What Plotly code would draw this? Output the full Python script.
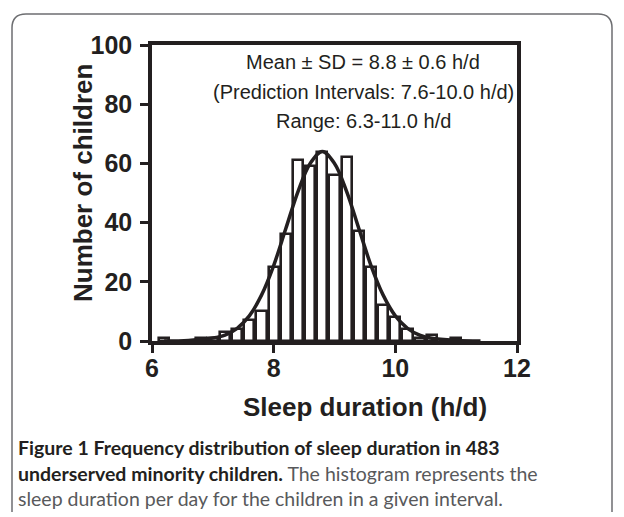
import plotly.graph_objects as go

# Histogram bins (h/d) and counts
bin_centers = [6.2, 6.8, 7.0, 7.2, 7.4, 7.6, 7.8, 8.0, 8.2, 8.4, 8.6, 8.8, 9.0,
               9.2, 9.4, 9.6, 9.8, 10.0, 10.2, 10.4, 10.6, 11.0]
counts = [1, 1, 1, 3, 4, 7, 10, 25, 36, 61, 59, 64, 56,
          62, 37, 25, 12, 8, 4, 1, 2, 1]

# Fitted curve, points
curve_x = [6.2, 6.6, 7.0, 7.2, 7.4, 7.6, 7.8, 8.0, 8.2, 8.4, 8.6, 8.8, 9.0,
           9.2, 9.4, 9.6, 9.8, 10.0, 10.2, 10.4, 10.6, 11.0, 11.4]
curve_y = [0.0, 0.2, 1.0, 2.0, 4.3, 8.5, 15.5, 25.5, 38.0, 50.5, 60.0, 64.0, 60.0,
           50.5, 38.0, 25.5, 15.5, 8.5, 4.3, 2.0, 0.9, 0.2, 0.0]

x_ticks = [6, 8, 10, 12]
y_ticks = [0, 20, 40, 60, 80, 100]

stats_lines = ["Mean ± SD = 8.8 ± 0.6 h/d",
               "(Prediction Intervals: 7.6-10.0 h/d)",
               "Range: 6.3-11.0 h/d"]
x_title = "Sleep duration (h/d)"
y_title = "Number of children"

W, H = 624, 517
L, R, T, B = 152, 107, 45, 176
INK = "#231f20"

fig = go.Figure()
fig.add_trace(go.Bar(x=bin_centers, y=counts, width=0.165,
                     marker=dict(color="white", line=dict(color=INK, width=2.6)),
                     showlegend=False))
fig.add_trace(go.Scatter(x=curve_x, y=curve_y, mode="lines", line_shape="spline",
                         line=dict(color=INK, width=3.5), showlegend=False))

FAM = "Liberation Sans, Arial"
tick_font = dict(family=FAM, size=25, color=INK, weight="bold")
title_font = dict(family=FAM, size=26, color=INK, weight="bold")
fig.update_xaxes(range=[6, 12], tickvals=x_ticks, ticks="outside", ticklen=8, tickwidth=3,
                 tickcolor=INK, showline=True, linewidth=3.5, linecolor=INK,
                 mirror=True, showgrid=False, zeroline=False, tickfont=tick_font,
                 ticklabelstandoff=-6)
fig.update_yaxes(range=[0, 100], tickvals=y_ticks, ticks="outside", ticklen=8, tickwidth=3,
                 tickcolor=INK, showline=True, linewidth=3.5, linecolor=INK,
                 mirror=True, showgrid=False, zeroline=False, tickfont=tick_font,
                 ticklabelstandoff=3)

pw, ph = W - L - R, H - T - B
def px(x):
    return (x - L) / pw
def py(y):
    return 1 - (y - T) / ph

# axis titles
fig.add_annotation(x=px(365), y=py(407), xref="paper", yref="paper", text=x_title,
                   showarrow=False, xanchor="center", yanchor="middle", font=title_font)
fig.add_annotation(x=px(83), y=py(183), xref="paper", yref="paper", text=y_title,
                   textangle=-90, showarrow=False, xanchor="center", yanchor="middle",
                   font=title_font)

for i, line in enumerate(stats_lines):
    fig.add_annotation(x=px(363), y=py(62 + 29.5 * i), xref="paper", yref="paper",
                       text=line, showarrow=False, xanchor="center", yanchor="middle",
                       font=dict(family=FAM, size=20, color=INK))

cap_font = "Lato, Open Sans, sans-serif"
caps = [("<b>Figure 1 Frequency distribution of sleep duration in 483</b>", 447),
        ("<b>underserved minority children.</b><span style='color:#58595b'> The histogram represents the</span>", 473),
        ("<span style='color:#58595b'>sleep duration per day for the children in a given interval.</span>", 498)]
for text, ypix in caps:
    fig.add_annotation(x=px(17), y=py(ypix), xref="paper", yref="paper",
                       text=text, showarrow=False, xanchor="left", yanchor="middle",
                       borderpad=0, font=dict(family=cap_font, size=19.5, color=INK))

# rounded panel border
r = 14
x0, y0, x1, y1 = 12, 14, 612, 512
path = (f"M {px(x0)},{py(y1)} L {px(x0)},{py(y0 + r)} Q {px(x0)},{py(y0)} {px(x0 + r)},{py(y0)} "
        f"L {px(x1 - r)},{py(y0)} Q {px(x1)},{py(y0)} {px(x1)},{py(y0 + r)} L {px(x1)},{py(y1)}")
fig.add_shape(type="path", path=path, xref="paper", yref="paper",
              line=dict(color="#6d6e71", width=1.5))

fig.update_layout(width=W, height=H, margin=dict(l=L, r=R, t=T, b=B, autoexpand=False),
                  paper_bgcolor="white", plot_bgcolor="white", bargap=0)
fig.write_html("out.html", config={"displayModeBar": False},
               post_script="document.body.style.margin='0px';document.body.style.overflow='hidden';")
